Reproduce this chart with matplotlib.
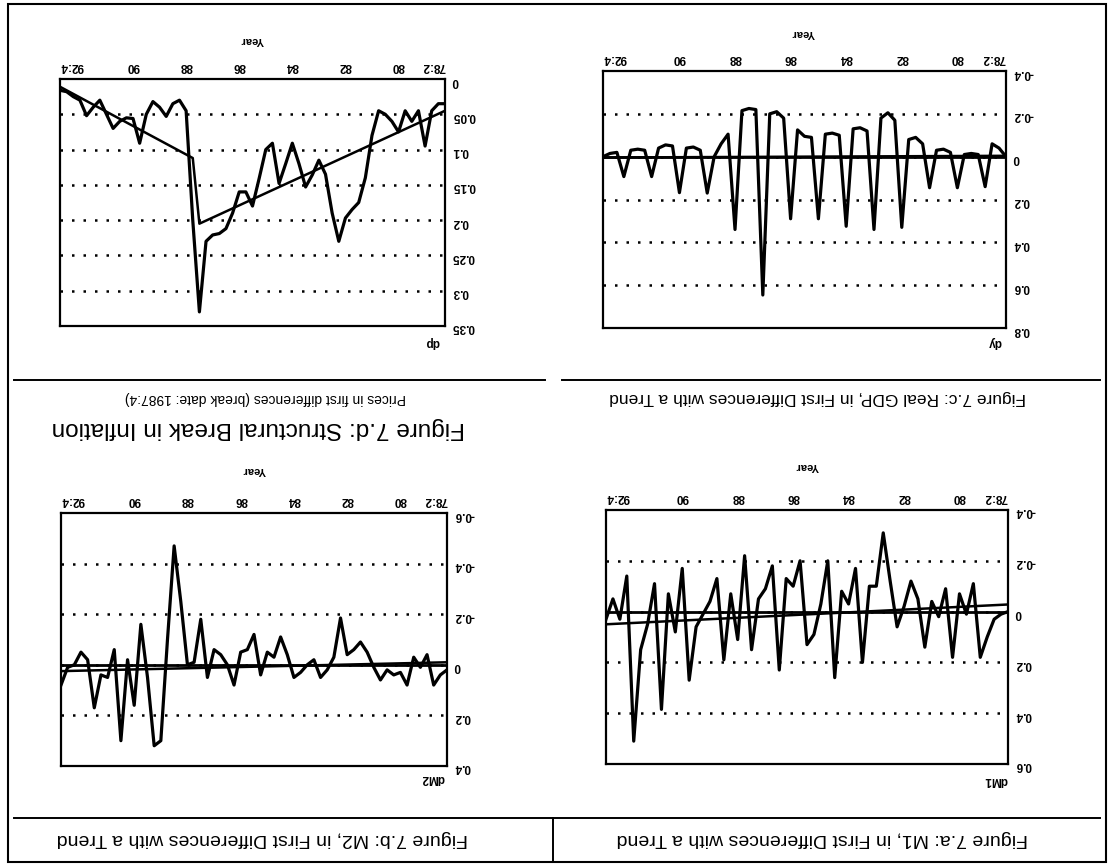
import numpy as np
import matplotlib.pyplot as plt
from matplotlib.lines import Line2D
from matplotlib.patches import Rectangle

plt.rcParams['font.family'] = ['Liberation Sans', 'DejaVu Sans']

# quarterly observations 78:2 ... 92:4 (59 quarters)
quarter_pos = np.arange(59)
tick_pos = [0, 7, 15, 23, 31, 39, 47, 58]
tick_labels = ["78:2", "80", "82", "84", "86", "88", "90", "92:4"]

# Figure 7.a: M1 in first differences
dM1 = [0.00, 0.01, 0.03, 0.10, 0.18, -0.11, 0.01, -0.07, 0.18, -0.09,
       0.02, -0.04, 0.14, -0.05, -0.12, -0.02, 0.06, -0.12, -0.31, -0.10,
       -0.10, 0.20, -0.17, -0.03, -0.08, 0.26, -0.20, -0.03, 0.09, 0.13,
       -0.20, -0.10, -0.13, 0.23, -0.18, -0.09, -0.05, 0.15, -0.22, 0.11,
       -0.07, 0.19, -0.13, -0.04, 0.01, 0.06, 0.27, -0.17, 0.08, -0.07,
       0.385, -0.11, 0.05, 0.15, 0.51, -0.14, 0.03, -0.05, 0.03]
trend_dM1 = [-0.028, 0.05]

# Figure 7.b: M2 in first differences
dM2 = [0.02, 0.04, 0.08, -0.04, 0.01, -0.03, 0.08, 0.03, 0.04, 0.02,
       0.06, 0.01, -0.05, -0.09, -0.06, -0.04, -0.185, -0.03, 0.02, 0.05,
       -0.02, 0.0, 0.03, 0.05, -0.04, -0.11, -0.03, -0.05, 0.04, -0.12,
       -0.06, -0.05, 0.08, 0.0, -0.04, -0.06, 0.05, -0.18, -0.01, 0.0,
       -0.25, -0.47, -0.10, 0.30, 0.32, 0.05, -0.16, 0.16, -0.02, 0.30,
       -0.06, 0.05, 0.04, 0.17, -0.02, -0.05, 0.0, 0.01, 0.08]
trend_dM2 = [-0.01, 0.025]

# Figure 7.c: real GDP in first differences
dy = [0.0, -0.04, -0.06,
      0.14, -0.01, -0.015, -0.01,
      0.145, -0.02, -0.035, -0.03,
      0.145, -0.06, -0.09, -0.08,
      0.33, -0.17, -0.205, -0.18,
      0.34, -0.12, -0.135, -0.13,
      0.325, -0.10, -0.11, -0.105,
      0.29, -0.09, -0.095, -0.125,
      0.29, -0.18, -0.21, -0.20,
      0.646, -0.22, -0.225, -0.215,
      0.34, -0.105, -0.06, 0.0,
      0.17, -0.03, -0.045, -0.04,
      0.168, -0.05, -0.055, -0.04,
      0.093, -0.03, -0.035, -0.03,
      0.093, -0.02, -0.015, 0.0]
trend_dy = [-0.004, 0.004]

# Figure 7.d: prices in first differences, broken trend (break 1987:4)
dp = [0.035, 0.035, 0.045, 0.095, 0.045, 0.06, 0.045, 0.075, 0.06, 0.05,
      0.045, 0.08, 0.14, 0.175, 0.185, 0.197, 0.23, 0.19, 0.135, 0.115,
      0.136, 0.153, 0.12, 0.091, 0.12, 0.148, 0.091, 0.10, 0.141, 0.18,
      0.16, 0.16, 0.19, 0.212, 0.219, 0.221, 0.23, 0.33, 0.2, 0.045,
      0.03, 0.035, 0.053, 0.04, 0.032, 0.05, 0.091, 0.056, 0.055, 0.06,
      0.07, 0.05, 0.03, 0.04, 0.052, 0.03, 0.025, 0.018, 0.016]
trend_dp_pos = [0, 37, 38, 58]
trend_dp = [0.045, 0.205, 0.112, 0.011]

W, H = 1112, 867
fig = plt.figure(figsize=(W / 100, H / 100), dpi=100)
fig.patch.set_facecolor('white')


def fx(x):
    return x / W


def fy(y):
    return 1 - y / H


def ftext(x, y, s, size, weight='normal'):
    # the scanned page is upside down, so every text is turned by 180 degrees
    fig.text(fx(x), fy(y), s, rotation=180, ha='center', va='center',
             fontsize=size, fontweight=weight)


def fline(x0, y0, x1, y1, lw=1.4):
    fig.add_artist(Line2D([fx(x0), fx(x1)], [fy(y0), fy(y1)],
                          transform=fig.transFigure, color='black', lw=lw))


def panel(box, series, tr_x, tr_y, yticks, ylabels, zero_line=True):
    x0, y0, x1, y1 = box
    ax = fig.add_axes([fx(x0), fy(y1), (x1 - x0) / W, (y1 - y0) / H])
    for t in yticks[1:-1]:
        ax.axhline(t, color='black', lw=1.8, ls=(0, (1, 3.6)))
    if zero_line:
        ax.axhline(0, color='black', lw=2.0)
    ax.plot(tr_x, tr_y, color='black', lw=1.8)
    ax.plot(quarter_pos, series, color='black', lw=2.3,
            solid_joinstyle='round')
    # upside-down: time runs right to left, values grow downwards
    ax.set_xlim(quarter_pos[-1], quarter_pos[0])
    ax.set_ylim(yticks[-1], yticks[0])
    ax.yaxis.tick_right()
    ax.xaxis.tick_top()
    ax.set_yticks(yticks)
    ax.set_yticklabels(ylabels, rotation=180, fontsize=8.5, fontweight='bold')
    ax.set_xticks(tick_pos)
    xl = ax.set_xticklabels(tick_labels, rotation=180, fontsize=8.5,
                            fontweight='bold')
    xl[0].set_ha('right')
    xl[-1].set_ha('left')
    ax.tick_params(length=0, pad=5)
    for s in ax.spines.values():
        s.set_linewidth(1.6)
    return ax


panel((606, 510, 1008, 764), dM1, [0, 58], trend_dM1,
      [-0.4, -0.2, 0, 0.2, 0.4, 0.6],
      ['-0.4', '-0.2', '0', '0.2', '0.4', '0.6'])
panel((61, 513, 447, 766), dM2, [0, 58], trend_dM2,
      [-0.6, -0.4, -0.2, 0, 0.2, 0.4],
      ['-0.6', '-0.4', '-0.2', '0', '0.2', '0.4'])
panel((603, 71, 1006, 328), dy, [0, 58], trend_dy,
      [-0.4, -0.2, 0, 0.2, 0.4, 0.6, 0.8],
      ['-0.4', '-0.2', '0', '0.2', '0.4', '0.6', '0.8'])
panel((60, 79, 445, 326), dp, trend_dp_pos, trend_dp,
      [0, 0.05, 0.1, 0.15, 0.2, 0.25, 0.3, 0.35],
      ['0', '0.05', '0.1', '0.15', '0.2', '0.25', '0.3', '0.35'],
      zero_line=False)

# axis titles
ftext(807, 466, 'Year', 8, 'bold')
ftext(254, 470, 'Year', 8, 'bold')
ftext(803, 33, 'Year', 8, 'bold')
ftext(252, 40, 'Year', 8, 'bold')
ftext(996, 780, 'dM1', 8.5, 'bold')
ftext(433, 778, 'dM2', 8.5, 'bold')
ftext(995, 342, 'dy', 8.5, 'bold')
ftext(432, 342, 'dp', 8.5, 'bold')

# figure captions
ftext(822, 839, 'Figure 7.a: M1, in First Differences with a Trend', 14)
ftext(262, 838, 'Figure 7.b: M2, in First Differences with a Trend', 14)
ftext(818, 398, 'Figure 7.c: Real GDP, in First Differences with a Trend', 12.5)
ftext(265, 398, 'Prices in first differences (break date: 1987:4)', 10)
ftext(258, 428, 'Figure 7.d: Structural Break in Inflation', 17.5)

# page frame and caption rules
fig.add_artist(Rectangle((fx(8), fy(862)), fx(1106) - fx(8), fy(4) - fy(862),
                         transform=fig.transFigure, fill=False,
                         edgecolor='black', lw=1.5))
fline(14, 380, 545, 380)
fline(562, 380, 1100, 380)
fline(14, 818, 1100, 818)
fline(553, 818, 553, 862)

fig.savefig('out.png', dpi=100)
